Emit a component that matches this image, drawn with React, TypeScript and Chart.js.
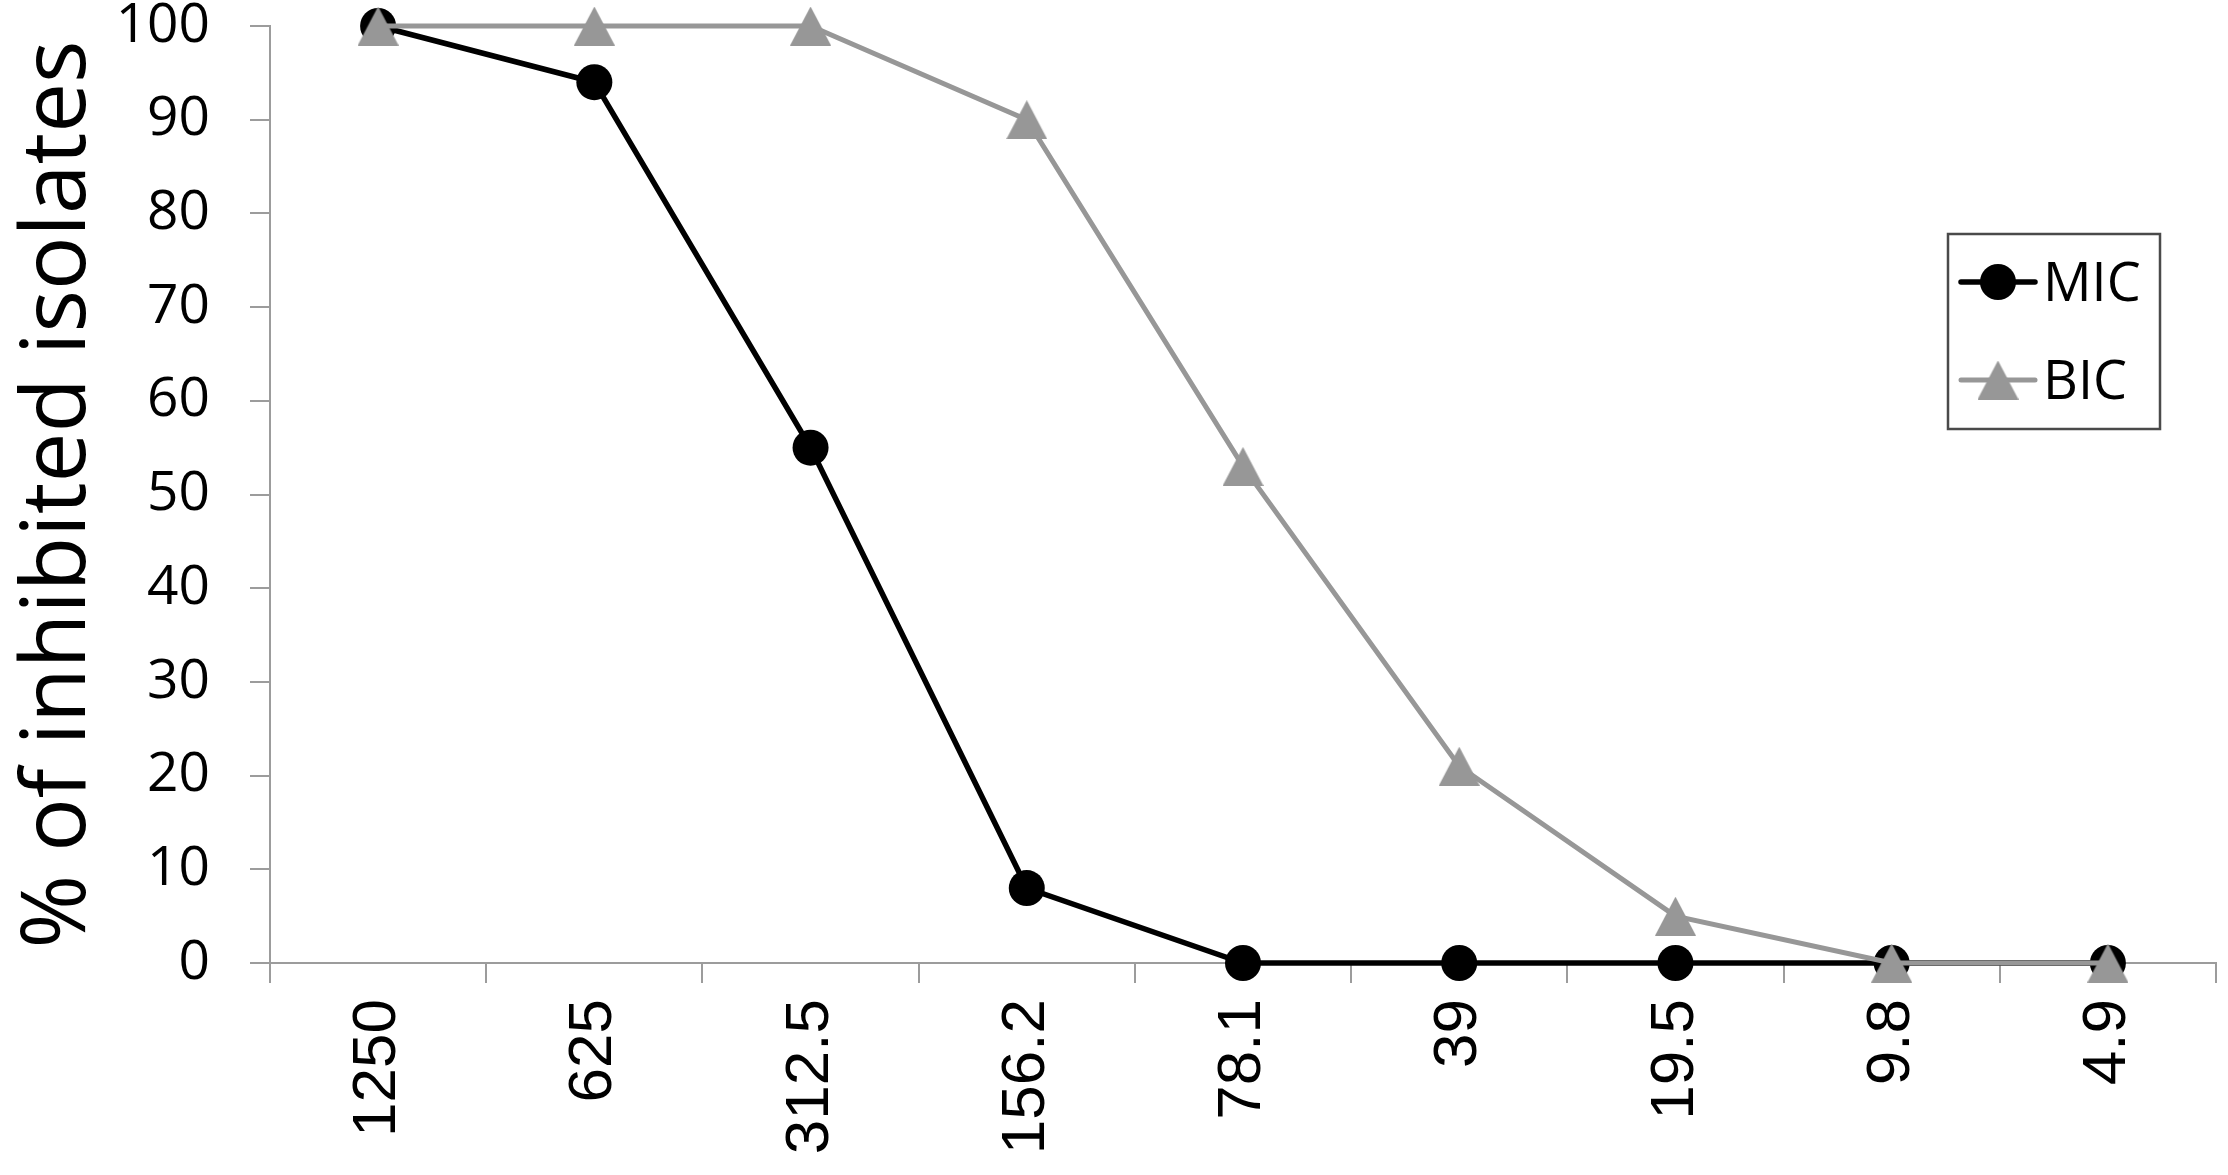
import React, { useEffect, useRef } from "react";
import { Chart, registerables } from "chart.js";

Chart.register(...registerables);

// ---- data ----
const categories = ["1250", "625", "312.5", "156.2", "78.1", "39", "19.5", "9.8", "4.9"];
const micValues = [100, 94, 55, 8, 0, 0, 0, 0, 0];
const bicValues = [100, 100, 100, 90, 53, 21, 5, 0, 0];
const seriesLabels = ["MIC", "BIC"];
const yAxisTitle = "% of inhibited isolates";
const yMin = 0;
const yMax = 100;
const yStep = 10;

// ---- styles ----
const W = 2228;
const H = 1175;
const axisGray = "#9c9c9c";
const micColor = "#000000";
const bicColor = "#979797";

function makeTriangle(w: number, h: number, color: string): HTMLCanvasElement {
  const c = document.createElement("canvas");
  c.width = w;
  c.height = h;
  const ctx = c.getContext("2d")!;
  ctx.fillStyle = color;
  ctx.beginPath();
  ctx.moveTo(w / 2, 0);
  ctx.lineTo(w, h);
  ctx.lineTo(0, h);
  ctx.closePath();
  ctx.fill();
  return c;
}

const boxLegend = {
  id: "boxLegend",
  afterDraw(chart: any) {
    const ctx = chart.ctx as CanvasRenderingContext2D;
    const area = chart.chartArea;
    const bx = area.right - 268;
    const by = area.top + 208;
    const bw = 212;
    const bh = 195;
    ctx.save();
    ctx.fillStyle = "#ffffff";
    ctx.fillRect(bx, by, bw, bh);
    ctx.strokeStyle = "#4a4a4a";
    ctx.lineWidth = 2.5;
    ctx.strokeRect(bx, by, bw, bh);
    chart.data.datasets.forEach((ds: any, i: number) => {
      const cy = by + 48 + i * 98;
      const lx0 = bx + 13;
      const lx1 = bx + 87;
      ctx.strokeStyle = ds.borderColor;
      ctx.lineWidth = ds.borderWidth;
      ctx.lineCap = "round";
      ctx.beginPath();
      ctx.moveTo(lx0, cy);
      ctx.lineTo(lx1, cy);
      ctx.stroke();
      const cx = (lx0 + lx1) / 2;
      const ps = ds.pointStyle;
      if (ps && typeof ps === "object") {
        ctx.drawImage(ps, cx - ps.width / 2, cy - ps.height / 2);
      } else {
        ctx.fillStyle = ds.pointBackgroundColor;
        ctx.beginPath();
        ctx.arc(cx, cy, ds.pointRadius, 0, Math.PI * 2);
        ctx.fill();
      }
      ctx.fillStyle = "#000000";
      ctx.font = "54px 'Open Sans'";
      ctx.textBaseline = "alphabetic";
      ctx.textAlign = "left";
      ctx.fillText(ds.label, bx + 95, cy + 19);
    });
    ctx.restore();
  },
};

export default function App() {
  const ref = useRef<HTMLCanvasElement>(null);

  useEffect(() => {
    if (!ref.current) return;
    const tri = makeTriangle(41, 39, bicColor);
    const chart = new Chart(ref.current, {
      type: "line",
      data: {
        labels: categories,
        datasets: [
          {
            label: seriesLabels[0],
            data: micValues,
            borderColor: micColor,
            backgroundColor: micColor,
            borderWidth: 5.5,
            pointStyle: "circle",
            pointRadius: 18,
            pointBackgroundColor: micColor,
            pointBorderWidth: 0,
            tension: 0,
            clip: false,
            order: 1,
          } as any,
          {
            label: seriesLabels[1],
            data: bicValues,
            borderColor: bicColor,
            backgroundColor: bicColor,
            borderWidth: 5,
            pointStyle: tri,
            pointRadius: 20,
            pointBackgroundColor: bicColor,
            pointBorderWidth: 0,
            tension: 0,
            clip: false,
            order: 0,
          } as any,
        ],
      },
      options: {
        responsive: false,
        animation: false,
        devicePixelRatio: 1,
        layout: { autoPadding: false, padding: { left: 0, right: 12, top: 26, bottom: 0 } },
        plugins: {
          legend: { display: false },
          tooltip: { enabled: false },
        },
        scales: {
          x: {
            type: "category",
            offset: true,
            grid: {
              offset: true,
              drawOnChartArea: false,
              drawTicks: true,
              tickLength: 20,
              color: axisGray,
              lineWidth: 2,
            },
            border: { display: true, color: axisGray, width: 2 },
            ticks: {
              autoSkip: false,
              maxRotation: 90,
              minRotation: 90,
              padding: 16,
              color: "#000000",
              font: { family: "'Liberation Sans', Arial, sans-serif", size: 62, lineHeight: 1 },
            },
            afterFit(scale: any) {
              scale.height = 212;
              scale.paddingLeft = 0;
              scale.paddingRight = 0;
            },
          },
          y: {
            min: yMin,
            max: yMax,
            ticks: {
              stepSize: yStep,
              padding: 40,
              color: "#000000",
              font: { family: "'Open Sans', sans-serif", size: 55, lineHeight: 1 },
            },
            grid: {
              drawOnChartArea: false,
              drawTicks: true,
              tickLength: 20,
              color: axisGray,
              lineWidth: 2,
            },
            border: { display: true, color: axisGray, width: 2 },
            title: {
              display: true,
              text: yAxisTitle,
              color: "#000000",
              font: { family: "'Open Sans', sans-serif", size: 89, lineHeight: 1 },
              padding: { top: 15, bottom: 0 },
            },
            afterFit(scale: any) {
              scale.width = 270;
              scale.paddingTop = 0;
              scale.paddingBottom = 0;
            },
          },
        },
      },
      plugins: [boxLegend],
    });
    return () => chart.destroy();
  }, []);

  return (
    <div style={{ position: "absolute", left: 0, top: 0, width: W, height: H, background: "#ffffff" }}>
      <canvas ref={ref} width={W} height={H} style={{ display: "block", width: W, height: H }} />
    </div>
  );
}
